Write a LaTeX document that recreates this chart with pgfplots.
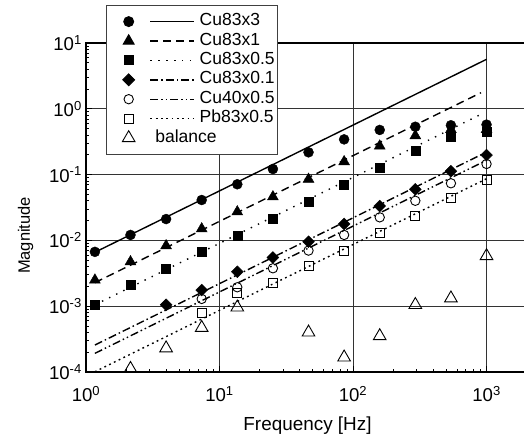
\documentclass[border=0pt]{standalone}
\usepackage{fontspec}
\setmainfont{Liberation Sans}
\usepackage{pgfplots}
\pgfplotsset{compat=1.18}
\usepackage{pgfplotstable}

% measured magnitudes (frequency in Hz)
\pgfplotstableread{
f       v
1.166   0.0067
2.154   0.0121
3.981   0.0211
7.356   0.0411
13.59   0.0713
25.12   0.1216
46.42   0.218
85.77   0.343
158.5   0.477
292.9   0.534
541.2   0.562
1000    0.575
}\cuA
\pgfplotstableread{
f       v
1.166   0.0025
2.154   0.00474
3.981   0.0083
7.356   0.0150
13.59   0.0272
25.12   0.046
46.42   0.085
85.77   0.157
158.5   0.272
292.9   0.39
541.2   0.484
1000    0.484
}\cuB
\pgfplotstableread{
f       v
1.166   0.00105
2.154   0.0021
3.981   0.00377
7.356   0.0067
13.59   0.0118
25.12   0.0211
46.42   0.0387
85.77   0.0695
158.5   0.127
292.9   0.229
541.2   0.372
1000    0.45
}\cuC
\pgfplotstableread{
f       v
3.981   0.00105
7.356   0.00176
13.59   0.00334
25.12   0.0055
46.42   0.00955
85.77   0.0178
158.5   0.0333
292.9   0.0597
541.2   0.1125
1000    0.1985
}\cuD
\pgfplotstableread{
f       v
7.356   0.00129
13.59   0.00194
25.12   0.00377
46.42   0.0070
85.77   0.0121
158.5   0.0224
292.9   0.040
541.2   0.0738
1000    0.145
}\cuE
\pgfplotstableread{
f       v
7.356   0.000798
13.59   0.00157
25.12   0.00223
46.42   0.00413
85.77   0.0070
158.5   0.0128
292.9   0.0234
541.2   0.0445
1000    0.082
}\pbA
\pgfplotstableread{
f       v
2.154   0.000112
3.981   0.00023
7.356   0.00047
13.59   0.00096
25.12   0.000097
46.42   0.0004
85.77   0.000167
158.5   0.000352
292.9   0.00105
541.2   0.00132
1000    0.0058
}\bal

% legend samples: marker on the left, line sample to its right
\pgfplotsset{
  lgd/.style={legend image code/.code={
    \path[draw=none, fill=none] (-19.3pt,-9.7pt) rectangle (71pt,9.7pt);
    \draw[##1] (21.7pt,0pt) -- (65pt,0pt);
    \draw[solid, fill=black, line width=0.9pt, #1] plot coordinates {(0pt,0pt)};
  }},
  lgdmark/.style={legend image code/.code={
    \path[draw=none, fill=none] (-19.3pt,-9.7pt) rectangle (71pt,9.7pt);
    \draw[solid, fill=none, ##1] plot coordinates {(0pt,0pt)};
  }},
  fitline/.style={black, line width=1.4pt},
}

\begin{document}
\begin{tikzpicture}
\useasboundingbox (-86pt,-69pt) rectangle (438pt,372pt);
\begin{axis}[
  scale only axis, width=443pt, height=329pt,
  xmode=log, ymode=log,
  xmin=1, xmax=2080, ymin=1e-4, ymax=10,
  xtick pos=bottom, ytick pos=left,
  grid=major, major grid style={black!80, line width=0.8pt},
  axis line style={line width=1.3pt},
  every tick/.style={black, line width=0.8pt},
  major tick length=6pt, minor tick length=3.5pt,
  clip marker paths=true,
  tick label style={font=\fontsize{18.6}{20}\selectfont},
  log number format basis/.code 2 args={#1\textsuperscript{\pgfmathprintnumber[assume math mode=true]{#2}}},
  xticklabel style={inner sep=0pt, anchor=north, yshift=-14pt},
  yticklabel style={inner sep=0pt, anchor=east, xshift=-4pt},
  xlabel={Frequency [Hz]}, ylabel={Magnitude},
  xlabel style={font=\fontsize{18.9}{21}\selectfont, at={(axis description cs:0.5,-0.1368)}, anchor=north, inner sep=0pt},
  ylabel style={font=\fontsize{16.5}{19}\selectfont, at={(axis description cs:-0.1366,0.415)}, anchor=center, inner sep=0pt},
  legend cell align=left,
  legend style={at={(axis description cs:0.04515,1.1155)}, anchor=north west,
    draw=black!75, line width=0.8pt, fill=white,
    inner xsep=3pt, inner ysep=6.5pt, row sep=0pt, column sep=0pt,
    font=\fontsize{17.5}{20}\selectfont,
    nodes={inner sep=0pt, text height=12pt, text depth=4pt}},
]
% fitted slopes
\addplot[fitline, solid, lgd={mark=*, mark size=5pt}]
  coordinates {(1.166,0.0066) (1000,5.65)};
\addlegendentry{Cu83x3}
\addplot[fitline, dash pattern=on 8pt off 5pt, lgd={mark=triangle*, mark size=6.3pt}]
  coordinates {(1.166,0.00228) (910,1.76)};
\addlegendentry{Cu83x1}
\addplot[fitline, dash pattern=on 1.4pt off 6.5pt, lgd={mark=square*, mark size=4.5pt}]
  coordinates {(1.166,0.00105) (940,0.853)};
\addlegendentry{Cu83x0.5}
\addplot[fitline, dash pattern=on 8pt off 3pt on 1.5pt off 3pt, lgd={mark=square*, mark size=4.2pt, mark options={rotate=45}}]
  coordinates {(1.166,0.000257) (1000,0.22)};
\addlegendentry{Cu83x0.1}
\addplot[fitline, dash pattern=on 8pt off 3pt on 1.5pt off 3pt on 1.5pt off 3pt, lgd={mark=o, mark size=4.7pt}]
  coordinates {(1.166,0.000192) (1000,0.165)};
\addlegendentry{Cu40x0.5}
\addplot[fitline, dash pattern=on 1.8pt off 3.5pt, lgd={mark=square, mark size=4.5pt}]
  coordinates {(1.166,0.000101) (1000,0.0865)};
\addlegendentry{Pb83x0.5}
% balance
\addplot[only marks, black, mark=triangle, mark size=7.3pt, line width=0.9pt, lgdmark]
  table[x=f, y=v] {\bal};
\addlegendentry{\hspace*{-44.3pt}balance}
% measured points
\addplot[only marks, black, mark=*, mark size=5pt, forget plot] table[x=f, y=v] {\cuA};
\addplot[only marks, black, mark=triangle*, mark size=6.3pt, forget plot] table[x=f, y=v] {\cuB};
\addplot[only marks, black, mark=square*, mark size=4.5pt, forget plot] table[x=f, y=v] {\cuC};
\addplot[only marks, black, mark=square*, mark size=4.2pt, mark options={rotate=45}, forget plot] table[x=f, y=v] {\cuD};
\addplot[only marks, black, mark=o, mark size=4.7pt, line width=0.9pt, forget plot] table[x=f, y=v] {\cuE};
\addplot[only marks, black, mark=square, mark size=4.5pt, line width=0.9pt, forget plot] table[x=f, y=v] {\pbA};
\end{axis}
\end{tikzpicture}
\end{document}
